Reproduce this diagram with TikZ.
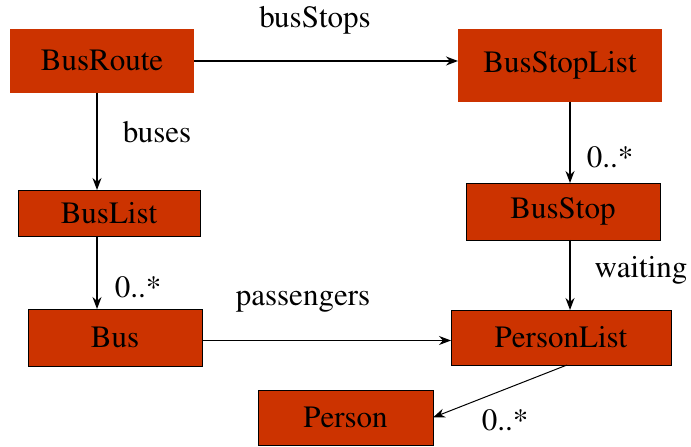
\documentclass[tikz,border=0pt]{standalone}
\usepackage[T1]{fontenc}
\renewcommand{\rmdefault}{ptm}
\usetikzlibrary{arrows.meta}
\definecolor{boxred}{HTML}{CC3300}
\tikzstyle{cls}=[rectangle,draw=black,line width=0.8pt,fill=boxred,inner sep=0pt,outer sep=0pt,font=\fontsize{31}{36}\selectfont]
\tikzstyle{role}=[inner sep=0pt,font=\fontsize{31}{36}\selectfont]
\tikzstyle{assoc}=[draw,line width=1.4pt,-{Stealth[length=12pt,width=9pt]}]

\begin{document}
\begin{tikzpicture}[x=1pt,y=1pt]
                \useasboundingbox (0,0) rectangle (691,447);
                \path node[cls,draw=none,minimum width=184pt,minimum height=64pt] (BusRoute) at (102,386) {BusRoute}
                    node[cls,draw=none,minimum width=204pt,minimum height=73pt] (BusStopList) at (560,381.5) {BusStopList}
                    node[cls,minimum width=182pt,minimum height=46pt] (BusList) at (109,234) {BusList}
                    node[cls,minimum width=194pt,minimum height=57pt] (BusStop) at (563,235.5) {BusStop}
                    node[cls,minimum width=174pt,minimum height=57pt] (Bus) at (115,109.5) {Bus}
                    node[cls,minimum width=220pt,minimum height=55pt] (PersonList) at (561,109.5) {PersonList}
                    node[cls,minimum width=175pt,minimum height=55pt] (Person) at (345.5,29.5) {Person}
                    ;
                \draw[assoc] (BusRoute.east) -- (BusStopList.west |- BusRoute.east);
                \draw[assoc] ([xshift=-5pt]BusRoute.south) -- ([xshift=-12pt]BusList.north);
                \draw[assoc] ([xshift=-12pt]BusList.south) -- ([xshift=-18pt]Bus.north);
                \draw[assoc] ([xshift=10pt]BusStopList.south) -- ([xshift=7pt]BusStop.north);
                \draw[assoc] ([xshift=7pt]BusStop.south) -- ([xshift=9pt]PersonList.north);
                \draw[assoc,line width=1pt] ([yshift=-3pt]Bus.east) -- ([yshift=-3pt]PersonList.west);
                \draw[assoc,line width=1pt] ([xshift=6pt]PersonList.south) -- (Person.east);
                \path node[role] (lStops) at (315,427) {busStops}
                    node[role] (lBuses) at (157,315) {buses}
                    node[role] (lBusMany) at (138,160) {0..*}
                    node[role] (lStopMany) at (610,290) {0..*}
                    node[role] (lWaiting) at (641,177) {waiting}
                    node[role] (lPassengers) at (303,145) {passengers}
                    node[role] (lPersonMany) at (505,27) {0..*}
                    ;
            \end{tikzpicture}
\end{document}
